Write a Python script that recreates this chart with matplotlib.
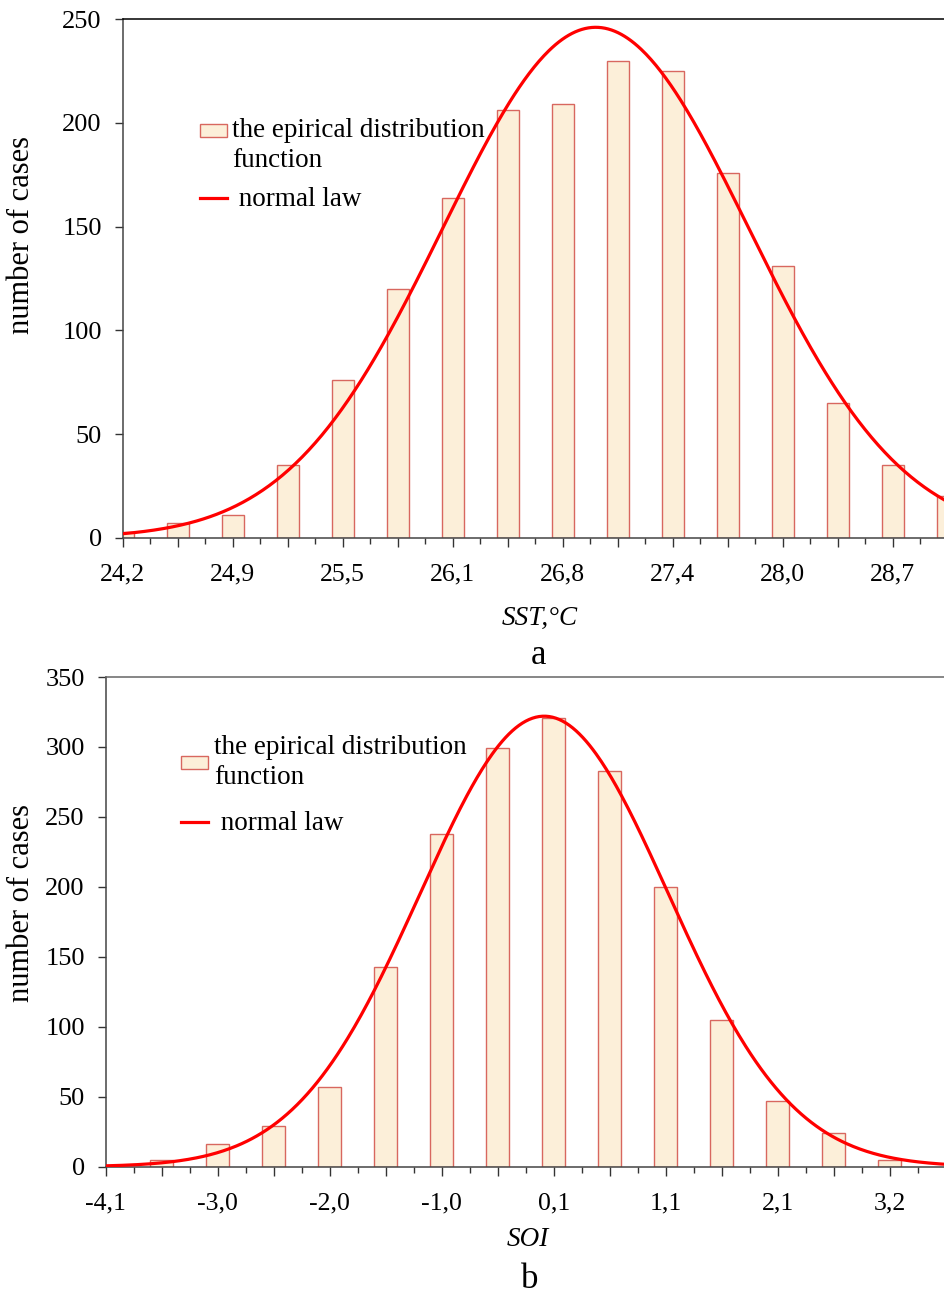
import numpy as np
import matplotlib
matplotlib.use("Agg")
import matplotlib.pyplot as plt
from matplotlib.ticker import FixedLocator, FixedFormatter, NullFormatter
from matplotlib.legend_handler import HandlerPatch, update_from_first_child
from matplotlib.patches import Rectangle

plt.rcParams['font.family'] = ['Liberation Serif', 'DejaVu Serif']

# a: SST, number of cases per bin
sst_start = 24.2
sst_step = 4.5 / 14
sst_counts = [3, 7, 11, 35, 76, 120, 164, 206, 209, 230, 225, 176, 131, 65, 35, 20]
sst_ticklabels = ["24,2", "24,9", "25,5", "26,1", "26,8", "27,4", "28,0", "28,7"]
# normal law fitted to it
sst_mean = 26.964
sst_sigma = 0.894
sst_peak = 246

# b: SOI, number of cases per bin (first bin at -4,1 is empty)
soi_start = -4.1
soi_step = 7.3 / 14
soi_counts = [5, 16, 29, 57, 143, 238, 299, 321, 283, 200, 105, 47, 24, 5]
soi_ticklabels = ["-4,1", "-3,0", "-2,0", "-1,0", "0,1", "1,1", "2,1", "3,2"]
soi_mean = -0.017
soi_sigma = 1.155
soi_peak = 322

bar_face = "#fcefd9"
bar_edge = "#d8675f"
line_red = "#ff0000"


def draw_panel(ax, start, step, first_bin, counts, mean, sigma, peak,
               n_span, ticklabels, ymax, top_color):
    centers = start + step * (first_bin + np.arange(len(counts)))
    bars = ax.bar(centers, counts, width=step * 0.4, color=bar_face,
                  edgecolor=bar_edge, linewidth=1.0, zorder=2)

    xmax = start + step * n_span
    x = np.linspace(start, xmax, 500)
    y = peak * np.exp(-0.5 * ((x - mean) / sigma) ** 2)
    line, = ax.plot(x, y, color=line_red, lw=2.3, zorder=3)

    ax.set_xlim(start, xmax)
    ax.set_ylim(0, ymax)
    ax.set_yticks(np.arange(0, ymax + 1, 50))

    major = [start + step * k for k in range(int(n_span) + 1)]
    minor = [start + step * (k + 0.5) for k in range(int(n_span) + 1)]
    labels = []
    for k in range(len(major)):
        labels.append(ticklabels[k // 2] if k % 2 == 0 else "")
    ax.xaxis.set_major_locator(FixedLocator(major))
    ax.xaxis.set_major_formatter(FixedFormatter(labels))
    ax.xaxis.set_minor_locator(FixedLocator(minor))
    ax.xaxis.set_minor_formatter(NullFormatter())

    ax.tick_params(axis="x", which="major", direction="out", length=6.5,
                   width=1.0, color="#333333", labelsize=18.5, pad=12)
    ax.tick_params(axis="x", which="minor", direction="out", length=4.5,
                   width=1.0, color="#333333")
    ax.tick_params(axis="y", which="major", direction="out", length=6,
                   width=1.0, color="#333333", labelsize=19, pad=9)

    ax.spines["right"].set_visible(False)
    ax.spines["top"].set_color(top_color)
    ax.spines["left"].set_color("#444444")
    ax.spines["bottom"].set_color("#444444")
    for s in ["top", "left", "bottom"]:
        ax.spines[s].set_linewidth(1.1)
    return bars, line


def raised_patch(legend, orig_handle, xdescent, ydescent, width, height, fontsize):
    # top chart: the box sits next to the first text line
    return Rectangle((-xdescent, -ydescent + 0.55 * fontsize), width, height)


def add_legend(ax, bars, line, anchor, spacing, raise_box=False):
    hmap = {}
    if raise_box:
        hmap[bars] = HandlerPatch(patch_func=raised_patch,
                                  update_func=update_from_first_child)
    leg = ax.legend([bars, line],
                    ["the epirical distribution\nfunction", " normal law"],
                    loc="upper left", bbox_to_anchor=anchor, frameon=False,
                    fontsize=19.5, handlelength=1.0, handleheight=0.4,
                    handletextpad=0.2, labelspacing=spacing, borderpad=0,
                    borderaxespad=0, handler_map=hmap)
    for t in leg.get_texts():
        t.set_linespacing(1.3)
    return leg


fig = plt.figure(figsize=(9.44, 12.97), dpi=100)
W, H = 944, 1297

# top panel
ax1 = fig.add_axes([122.7 / W, 1 - 538 / H, (W - 122.7) / W, (538 - 19) / H])
bars1, line1 = draw_panel(ax1, sst_start, sst_step, 0, sst_counts, sst_mean,
                          sst_sigma, sst_peak, 14.93, sst_ticklabels, 250,
                          "#000000")
add_legend(ax1, bars1, line1, (0.094, 0.81), 0.5, raise_box=True)
fig.text(22 / W, 1 - 235 / H, "number of cases", rotation=90, fontsize=22,
         ha="center", va="center")
fig.text(540 / W, 1 - 618 / H, "SST,°C", style="italic", fontsize=19.5,
         ha="center", va="center")
fig.text(539 / W, 1 - 656 / H, "a", fontsize=25, ha="center", va="center")

# bottom panel
ax2 = fig.add_axes([105.7 / W, 1 - 1166.7 / H, (W - 105.7) / W, (1166.7 - 677) / H])
bars2, line2 = draw_panel(ax2, soi_start, soi_step, 1, soi_counts, soi_mean,
                          soi_sigma, soi_peak, 14.97, soi_ticklabels, 350,
                          "#666666")
add_legend(ax2, bars2, line2, (0.09, 0.882), 0.75)
fig.text(22 / W, 1 - 903 / H, "number of cases", rotation=90, fontsize=22,
         ha="center", va="center")
fig.text(528 / W, 1 - 1239 / H, "SOI", style="italic", fontsize=19.5,
         ha="center", va="center")
fig.text(530 / W, 1 - 1280 / H, "b", fontsize=25, ha="center", va="center")

fig.savefig("out.png", dpi=100)
